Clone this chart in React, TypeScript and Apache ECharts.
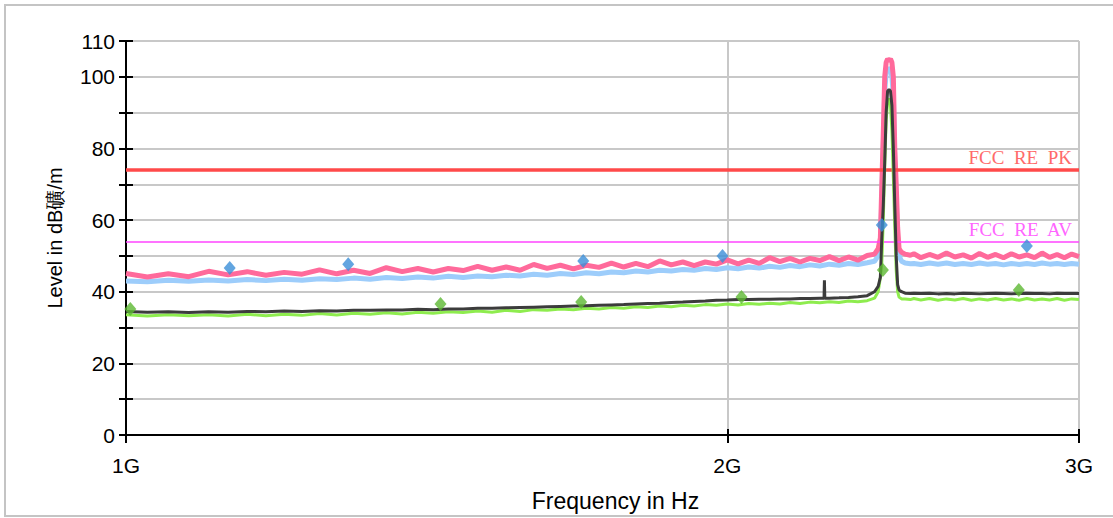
import React, { useEffect, useRef } from "react";
import * as echarts from "echarts";

// Frequencies in MHz (shared sweep grid)
const freqMHz = [
  1000, 1025, 1050, 1075, 1100, 1125, 1150, 1175, 1200, 1225,
  1250, 1275, 1300, 1325, 1350, 1375, 1400, 1425, 1450, 1475,
  1500, 1525, 1550, 1575, 1600, 1625, 1650, 1675, 1700, 1725,
  1750, 1775, 1800, 1825, 1850, 1875, 1900, 1925, 1950, 1975,
  2000, 2025, 2050, 2075, 2100, 2125, 2150, 2175, 2200, 2225,
  2250, 2275, 2300, 2325, 2350,
  2370, 2380, 2386, 2390, 2394, 2398, 2402, 2406, 2410, 2414,
  2418, 2422, 2426, 2430, 2434, 2438, 2445, 2455, 2470,
  2480, 2500, 2525, 2550, 2575, 2600, 2625, 2650, 2675, 2700,
  2725, 2750, 2775, 2800, 2825, 2850, 2875, 2900, 2925, 2950,
  2975, 3000,
];

// Pink trace (peak detector)
const pinkLevel = [
  45.1, 44.1, 45.0, 44.2, 45.7, 44.7, 45.6, 44.6, 45.4, 44.9,
  46.1, 45.0, 46.0, 45.1, 46.7, 45.6, 46.5, 45.5, 46.5, 45.9,
  47.1, 46.0, 46.9, 46.0, 47.6, 46.5, 47.4, 46.4, 47.4, 46.8,
  48.0, 46.9, 47.9, 47.0, 48.6, 47.5, 48.3, 47.3, 48.3, 47.7,
  48.9, 47.8, 48.8, 47.9, 49.5, 48.4, 49.3, 48.3, 49.3, 48.7,
  49.8, 48.7, 49.7, 48.8, 50.1,
  50.5, 52, 55, 70, 84, 100, 104, 105, 104.5, 105,
  104, 100, 80, 70, 58, 52, 51, 50.5, 50.2,
  50.6, 49.5, 50.4, 49.6, 50.8, 49.7, 50.3, 49.4, 50.7, 49.6,
  50.4, 49.5, 50.6, 49.7, 50.3, 49.5, 50.8, 49.6, 50.4, 49.5,
  50.5, 49.8,
];

// Light blue trace
const blueLevel = [
  43.0, 42.8, 43.2, 42.9, 43.3, 43.0, 43.4, 43.1, 43.5, 43.2,
  43.6, 43.4, 43.8, 43.5, 44.0, 43.7, 44.1, 43.8, 44.3, 44.0,
  44.4, 44.2, 44.6, 44.4, 44.9, 44.6, 45.1, 44.8, 45.3, 45.0,
  45.5, 45.3, 45.8, 45.5, 46.0, 45.8, 46.2, 46.0, 46.5, 46.2,
  46.7, 46.4, 46.9, 46.6, 47.1, 46.8, 47.3, 47.0, 47.5, 47.2,
  47.7, 47.4, 47.9, 47.6, 48.1,
  48.5, 50, 53, 66, 80, 96, 101, 102.5, 102, 102,
  100, 95, 76, 66, 55, 50, 48.5, 48, 47.8,
  47.9, 47.6, 48.0, 47.7, 48.0, 47.6, 47.9, 47.6, 48.0, 47.7,
  47.9, 47.5, 47.9, 47.6, 47.9, 47.6, 48.0, 47.7, 47.9, 47.6,
  47.9, 47.7,
];

// Dark grey trace
const blackLevel = [
  34.5, 34.3, 34.4, 34.2, 34.4, 34.3, 34.5, 34.4, 34.6, 34.5,
  34.7, 34.6, 34.8, 34.8, 34.9, 34.9, 35.1, 35.0, 35.2, 35.2,
  35.4, 35.4, 35.5, 35.6, 35.7, 35.8, 35.9, 36.0, 36.1, 36.2,
  36.3, 36.4, 36.6, 36.7, 36.8, 37.0, 37.1, 37.3, 37.4, 37.6,
  37.7, 37.8, 37.8, 37.9, 37.9, 38.0, 38.0, 38.1, 38.1, 38.2,
  38.2, 38.3, 38.4, 38.6, 38.9,
  40, 41.5, 44, 55, 64, 76, 90, 96, 96.5, 96,
  92, 80, 64, 50, 42, 40.5, 40, 39.6, 39.5,
  39.6, 39.5, 39.6, 39.4, 39.5, 39.4, 39.6, 39.5, 39.4, 39.5,
  39.6, 39.5, 39.4, 39.5, 39.6, 39.5, 39.5, 39.4, 39.6, 39.5,
  39.5, 39.5,
];
const blackSpikeFreq = [2236, 2237, 2238];
const blackSpikeLevel = [38.2, 43.2, 38.2];

// Green trace
const greenLevel = [
  33.6, 33.2, 33.6, 33.3, 33.6, 33.2, 33.7, 33.3, 33.7, 33.4,
  33.9, 33.5, 34.0, 33.7, 34.1, 33.8, 34.3, 34.0, 34.4, 34.2,
  34.6, 34.3, 34.8, 34.5, 35.0, 34.8, 35.2, 35.0, 35.4, 35.2,
  35.6, 35.4, 35.8, 35.6, 36.0, 35.8, 36.2, 36.0, 36.4, 36.2,
  36.6, 36.3, 36.7, 36.5, 36.8, 36.6, 37.0, 36.7, 37.1, 36.9,
  37.2, 37.0, 37.4, 37.2, 37.5,
  38.2, 40, 44, 48, 60, 75, 88, 93, 94, 92,
  85, 72, 58, 46, 40, 38.5, 38, 38, 37.8,
  38.1, 37.7, 38.1, 37.6, 38.0, 37.7, 38.1, 37.6, 38.0, 37.7,
  38.1, 37.7, 38.0, 37.6, 38.1, 37.7, 38.0, 37.7, 38.1, 37.6,
  38.0, 37.8,
];

// Markers
const blueMarkerFreq = [1127, 1292, 1694, 1989, 2390, 2825];
const blueMarkerLevel = [46.6, 47.7, 48.6, 50.0, 58.6, 52.8];
const greenMarkerFreq = [1005, 1437, 1690, 2033, 2393, 2799];
const greenMarkerLevel = [35.2, 36.6, 37.1, 38.5, 46.1, 40.5];

// Limits
const limitPK = 74;
const limitAV = 54;
const limitPKName = "FCC  RE  PK";
const limitAVName = "FCC  RE  AV";

// Axis ticks
const xTickGHz = [1, 2, 3];
const xTickLabels = ["1G", "2G", "3G"];
const yMin = 0;
const yMax = 110;
const yInterval = 10;

const lx = (mhz: number) => Math.log10(mhz / 1000);

export default function App() {
  const ref = useRef<HTMLDivElement>(null);
  useEffect(() => {
    if (!ref.current) return;
    const chart = echarts.init(ref.current, undefined, { renderer: "svg" });
    const pair = (fs: number[], vs: number[]) => fs.map((f, i) => [lx(f), vs[i]]);
    const blackData = pair(
      [...freqMHz, ...blackSpikeFreq],
      [...blackLevel, ...blackSpikeLevel]
    ).sort((a, b) => a[0] - b[0]);
    const tickVals = xTickGHz.map((g) => Math.log10(g));
    const labelFor = (v: number) => {
      const i = tickVals.findIndex((t) => Math.abs(t - v) < 1e-6);
      return i >= 0 ? xTickLabels[i] : "";
    };
    const sans = "Liberation Sans, Arial, sans-serif";
    const axisBase = {
      type: "value" as const,
      min: 0,
      max: Math.log10(3),
      position: "bottom" as const,
    };
    chart.setOption({
      animation: false,
      backgroundColor: "#ffffff",
      grid: { left: 126, right: 34, top: 41, bottom: 83, containLabel: false },
      graphic: [
        {
          type: "rect",
          shape: { x: 5, y: 5, width: 1120, height: 511 },
          style: { fill: "none", stroke: "#c4c4c4", lineWidth: 2 },
          silent: true,
        },
      ],
      xAxis: [
        {
          ...axisBase,
          axisLine: { show: true, lineStyle: { color: "#000", width: 2 } },
          axisTick: {
            show: true,
            inside: false,
            length: 8,
            customValues: tickVals,
            lineStyle: { color: "#000", width: 2 },
          },
          axisLabel: {
            customValues: tickVals,
            formatter: (v: number) => labelFor(v),
            fontSize: 21,
            color: "#000",
            margin: 20,
            fontFamily: sans,
          },
          splitLine: { show: true, lineStyle: { color: "#c8c8c8", width: 2 } },
          name: "Frequency in Hz",
          nameLocation: "middle",
          nameGap: 54,
          nameTextStyle: { fontSize: 23, color: "#000", fontFamily: sans, padding: [0, 0, 0, 26] },
        },
        {
          ...axisBase,
          axisLine: { show: false },
          axisTick: {
            show: true,
            inside: true,
            length: 6,
            customValues: tickVals,
            lineStyle: { color: "#000", width: 2 },
          },
          axisLabel: { show: false },
          splitLine: { show: false },
        },
      ],
      yAxis: [
        {
          type: "value",
          min: yMin,
          max: yMax,
          interval: yInterval,
          position: "left",
          axisLine: { show: true, lineStyle: { color: "#000", width: 2 } },
          axisTick: { show: true, inside: false, length: 7, lineStyle: { color: "#000", width: 2 } },
          axisLabel: {
            formatter: (v: number) => (v % 20 === 0 || v === yMax ? String(v) : ""),
            fontSize: 21,
            color: "#000",
            margin: 11,
            fontFamily: sans,
          },
          splitLine: { show: true, lineStyle: { color: "#c8c8c8", width: 2 } },
          name: "Level in dB礦/m",
          nameLocation: "middle",
          nameGap: 61,
          nameTextStyle: { fontSize: 20, color: "#000", fontFamily: sans },
        },
        {
          type: "value",
          min: yMin,
          max: yMax,
          interval: yInterval,
          position: "left",
          axisLine: { show: false },
          axisTick: { show: true, inside: true, length: 7, lineStyle: { color: "#000", width: 2 } },
          axisLabel: { show: false },
          splitLine: { show: false },
        },
      ],
      series: [
        {
          type: "line",
          name: "limits",
          data: [],
          silent: true,
          markLine: {
            symbol: "none",
            silent: true,
            data: [
              {
                yAxis: limitPK,
                lineStyle: { color: "#ff4a4a", width: 3.5, type: "solid" },
                label: {
                  show: true,
                  position: "insideEndTop",
                  formatter: limitPKName,
                  color: "#ff6a6a",
                  fontFamily: "Liberation Serif, serif",
                  fontSize: 19,
                  distance: [7, 3],
                },
              },
              {
                yAxis: limitAV,
                lineStyle: { color: "#ff44ff", width: 1.5, type: "solid" },
                label: {
                  show: true,
                  position: "insideEndTop",
                  formatter: limitAVName,
                  color: "#ff66ff",
                  fontFamily: "Liberation Serif, serif",
                  fontSize: 19,
                  distance: [7, 3],
                },
              },
            ],
          },
        },
        {
          type: "line",
          name: "blue",
          data: pair(freqMHz, blueLevel),
          showSymbol: false,
          lineStyle: { color: "#9dcdfb", width: 5 },
          z: 3,
        },
        {
          type: "line",
          name: "pink",
          data: pair(freqMHz, pinkLevel),
          showSymbol: false,
          lineStyle: { color: "#ff6a9b", width: 5 },
          z: 4,
        },
        {
          type: "line",
          name: "green",
          data: pair(freqMHz, greenLevel),
          showSymbol: false,
          lineStyle: { color: "#8eec4e", width: 3 },
          z: 5,
        },
        {
          type: "line",
          name: "black",
          data: blackData,
          showSymbol: false,
          lineStyle: { color: "#3c3c3c", width: 3 },
          z: 6,
        },
        {
          type: "scatter",
          name: "blueMarkers",
          data: pair(blueMarkerFreq, blueMarkerLevel),
          symbol: "diamond",
          symbolSize: [12, 14],
          itemStyle: { color: "#3b8fd8" },
          z: 8,
        },
        {
          type: "scatter",
          name: "greenMarkers",
          data: pair(greenMarkerFreq, greenMarkerLevel),
          symbol: "diamond",
          symbolSize: [12, 14],
          itemStyle: { color: "#5cb832" },
          z: 8,
        },
      ],
    });
    return () => chart.dispose();
  }, []);
  return (
    <div
      ref={ref}
      style={{ position: "fixed", left: 0, top: 0, width: 1113, height: 518, background: "#fff" }}
    />
  );
}
